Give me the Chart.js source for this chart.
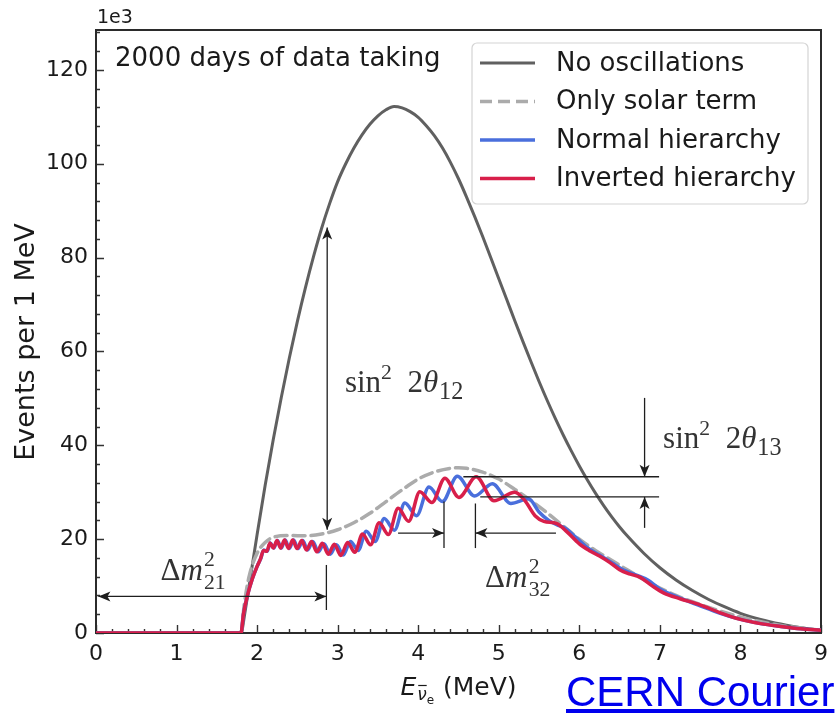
<!DOCTYPE html>
<html>
<head>
<meta charset="utf-8">
<script src="https://cdn.jsdelivr.net/npm/chart.js@4.4.1/dist/chart.umd.min.js"></script>
<style>
    html, body { margin: 0; padding: 0; background: #fff; }
    #wrap { position: relative; width: 840px; height: 716px; }
    #credit {
        position: absolute; left: 566px; top: 671px;
        font: 42px "Liberation Sans", Arial, sans-serif; line-height: 42px;
        color: #0000ee; text-decoration: underline;
    }
</style>
</head>
<body>
<div id="wrap">
    <canvas id="spectrum" width="840" height="716"></canvas>
    <a id="credit" href="#">CERN Courier</a>
</div>
<script>
"use strict";

// Reactor antineutrino spectrum, events per 1 MeV (x 1e3) vs energy (MeV)
var noOscE = [0, 1.8, 1.85, 1.9, 2.0, 2.1, 2.2, 2.3, 2.4, 2.5, 2.6, 2.7, 2.8, 2.9, 3.0, 3.1, 3.2, 3.3, 3.4, 3.5, 3.6, 3.7, 3.8, 3.9, 4.0, 4.1, 4.2, 4.3, 4.4, 4.5, 4.6, 4.7, 4.8, 4.9, 5.0, 5.1, 5.2, 5.3, 5.4, 5.5, 5.6, 5.7, 5.8, 5.9, 6.0, 6.1, 6.2, 6.3, 6.4, 6.5, 6.6, 6.8, 7.0, 7.2, 7.4, 7.6, 7.8, 8.0, 8.25, 8.5, 8.75, 9.0];
var noOscN = [0, 0, 4.5, 10, 21, 31.5, 41.2, 50.2, 58.6, 66.4, 73.6, 80.2, 86.2, 91.5, 96.2, 100.0, 103.3, 106.1, 108.4, 110.2, 111.5, 112.2, 111.9, 111.1, 109.9, 108.1, 106.0, 103.4, 100.3, 96.8, 92.9, 88.8, 84.5, 80.0, 75.5, 71.0, 66.5, 62.1, 57.8, 53.6, 49.6, 45.8, 42.2, 38.8, 35.6, 32.6, 29.8, 27.2, 24.8, 22.6, 20.6, 17.0, 13.9, 11.3, 9.1, 7.2, 5.6, 4.2, 2.9, 1.9, 1.1, 0.6];

var solarE = [0, 1.8, 1.84, 1.9, 2.0, 2.1, 2.2, 2.4, 2.6, 2.8, 3.0, 3.2, 3.4, 3.6, 3.8, 4.0, 4.2, 4.4, 4.5, 4.6, 4.8, 5.0, 5.2, 5.4, 5.6, 5.8, 6.0, 6.2, 6.4, 6.6, 6.8, 7.0, 7.2, 7.5, 8.0, 8.5, 9.0];
var solarN = [0, 0, 6, 12, 17, 19.3, 20.4, 20.8, 20.7, 21.1, 22, 23.5, 25.5, 28, 30.5, 32.8, 34.3, 35.1, 35.2, 35.1, 34.3, 32.8, 30.6, 28.2, 25.6, 22.8, 20.0, 17.6, 15.5, 13.4, 11.4, 9.6, 8.0, 6.1, 3.4, 1.6, 0.6];

var normalE = [0, 1.8, 1.83, 1.88, 1.94, 2.0, 2.046, 2.083, 2.124, 2.165, 2.208, 2.252, 2.3, 2.348, 2.4, 2.452, 2.509, 2.566, 2.628, 2.691, 2.76, 2.83, 2.907, 2.985, 3.07, 3.158, 3.255, 3.355, 3.465, 3.577, 3.705, 3.834, 3.98, 4.133, 4.3, 4.485, 4.7, 4.92, 5.15, 5.37, 5.5, 5.62, 5.73, 5.82, 5.95, 6.1, 6.25, 6.4, 6.55, 6.7, 6.85, 7.0, 7.2, 7.5, 7.75, 8.0, 8.25, 8.5, 8.75, 9.0];
var normalN = [0, 0, 4, 8, 11.5, 14.2, 15.9, 17.7, 17.4, 19.2, 18.1, 19.7, 18.1, 19.8, 18.0, 19.8, 18.0, 19.7, 17.7, 19.5, 17.3, 19.0, 16.8, 18.8, 16.6, 19.5, 17.6, 21.7, 19.5, 24.4, 21.9, 27.7, 25.0, 31.1, 28.0, 33.4, 29.2, 31.8, 27.6, 28.6, 25.8, 24.0, 23.0, 22.4, 20.5, 18.2, 16.6, 15.0, 13.4, 12.4, 11.3, 9.4, 7.8, 5.8, 4.2, 2.9, 2.0, 1.4, 0.9, 0.6];

var invertedE = [0, 1.8, 1.83, 1.88, 1.94, 2.0, 2.042, 2.079, 2.119, 2.16, 2.202, 2.246, 2.292, 2.34, 2.39, 2.442, 2.496, 2.554, 2.612, 2.676, 2.741, 2.81, 2.882, 2.958, 3.039, 3.123, 3.213, 3.308, 3.408, 3.515, 3.629, 3.751, 3.881, 4.02, 4.17, 4.331, 4.505, 4.72, 4.94, 5.2, 5.32, 5.45, 5.56, 5.72, 5.85, 6.0, 6.12, 6.25, 6.38, 6.5, 6.62, 6.75, 6.9, 7.05, 7.25, 7.5, 7.75, 8.0, 8.25, 8.5, 8.75, 9.0];
var invertedN = [0, 0, 4, 8, 11.5, 14.2, 15.8, 17.6, 17.4, 19.2, 18.1, 19.7, 18.1, 19.8, 18.0, 19.8, 18.0, 19.7, 17.7, 19.5, 17.3, 19.1, 16.8, 18.9, 16.5, 19.3, 17.2, 21.1, 18.8, 23.5, 21.0, 26.6, 23.8, 30.1, 27.8, 33.0, 28.9, 33.3, 28.2, 30.0, 28.3, 25.0, 23.8, 23.3, 21.5, 19.0, 17.6, 16.4, 15.0, 13.5, 12.6, 11.9, 10.1, 8.5, 7.3, 6.0, 4.3, 2.9, 2.0, 1.4, 0.9, 0.6];

var seriesLabels = ['No oscillations', 'Only solar term', 'Normal hierarchy', 'Inverted hierarchy'];
var xTicks = [0, 1, 2, 3, 4, 5, 6, 7, 8, 9];
var yTicks = [0, 20, 40, 60, 80, 100, 120];

// Arrows and bars of the annotations, in axis units
var marks = [
    { x1: 2.87, y1: 22.0, x2: 2.87, y2: 86.4, head1: true, head2: true },
    { x1: 0.03, y1: 7.8, x2: 2.86, y2: 7.8, head1: true, head2: true },
    { x1: 2.86, y1: 4.9, x2: 2.86, y2: 14.5 },
    { x1: 4.32, y1: 18.1, x2: 4.32, y2: 28.0 },
    { x1: 4.71, y1: 18.1, x2: 4.71, y2: 27.6 },
    { x1: 3.75, y1: 21.3, x2: 4.32, y2: 21.3, head2: true },
    { x1: 5.71, y1: 21.3, x2: 4.71, y2: 21.3, head2: true },
    { x1: 4.56, y1: 33.3, x2: 6.99, y2: 33.3 },
    { x1: 4.77, y1: 29.0, x2: 6.99, y2: 29.0 },
    { x1: 6.81, y1: 50.1, x2: 6.81, y2: 33.3, head2: true },
    { x1: 6.81, y1: 22.4, x2: 6.81, y2: 29.0, head2: true }
];

var mathLabels = [
    { x: 3.09, y: 51.4, runs: [{ t: 'sin' }, { t: '2', sc: 0.7, dy: -0.42, gap: 0.5 }, { t: '2' }, { t: 'θ', it: true, gap: 0.03 }, { t: '12', sc: 0.78, dy: 0.22 }] },
    { x: 7.04, y: 39.4, runs: [{ t: 'sin' }, { t: '2', sc: 0.7, dy: -0.42, gap: 0.5 }, { t: '2' }, { t: 'θ', it: true, gap: 0.03 }, { t: '13', sc: 0.78, dy: 0.22 }] },
    { x: 0.80, y: 11.3, runs: [{ t: 'Δ' }, { t: 'm', it: true, gap: 0.04 }, { sup: '2', sub: '21' }] },
    { x: 4.83, y: 9.8, runs: [{ t: 'Δ' }, { t: 'm', it: true, gap: 0.04 }, { sup: '2', sub: '32' }] }
];

var SANS = '"DejaVu Sans", sans-serif';
var SERIF = '"Liberation Serif", "DejaVu Serif", serif';

var toPoints = function (xs, ys) {
    return xs.map(function (x, i) {
        return { x: x, y: ys[i] };
    });
};

var drawArrowHead = function (ctx, x, y, angle) {
    var len = 12, half = 5;
    ctx.save();
    ctx.translate(x, y);
    ctx.rotate(angle);
    ctx.beginPath();
    ctx.moveTo(0, 0);
    ctx.lineTo(-len, -half);
    ctx.lineTo(-len * 0.75, 0);
    ctx.lineTo(-len, half);
    ctx.closePath();
    ctx.fill();
    ctx.restore();
};

var drawRuns = function (ctx, x, y, runs, size) {
    var cx = x;
    runs.forEach(function (r) {
        if (r.sup !== undefined) {
            ctx.font = (size * 0.7) + 'px ' + SERIF;
            ctx.fillText(r.sup, cx, y - size * 0.45);
            ctx.fillText(r.sub, cx, y + size * 0.28);
            cx += Math.max(ctx.measureText(r.sup).width, ctx.measureText(r.sub).width);
            return;
        }
        var s = size * (r.sc || 1);
        ctx.font = (r.it ? 'italic ' : '') + s + 'px ' + SERIF;
        ctx.fillText(r.t, cx, y + (r.dy || 0) * size);
        cx += ctx.measureText(r.t).width + (r.gap || 0) * size;
    });
};

// Frame and inward ticks go under the curves
var frame = {
    id: 'frame',
    beforeDatasetsDraw: function (chart) {
        var ctx = chart.ctx;
        var area = chart.chartArea;
        var xs = chart.scales.x, ys = chart.scales.y;
        var i, p;

        ctx.save();
        ctx.strokeStyle = '#333';
        ctx.lineWidth = 1.4;
        ctx.beginPath();
        for (i = 0; i <= 45; i++) {
            p = Math.round(xs.getPixelForValue(i * 0.2)) + 0.5;
            ctx.moveTo(p, area.bottom);
            ctx.lineTo(p, area.bottom - (i % 5 === 0 ? 8 : 4));
        }
        for (i = 0; i * 4 <= 128; i++) {
            p = Math.round(ys.getPixelForValue(i * 4)) + 0.5;
            ctx.moveTo(area.left, p);
            ctx.lineTo(area.left + (i % 5 === 0 ? 8 : 4), p);
        }
        ctx.stroke();

        ctx.lineWidth = 2;
        ctx.strokeStyle = '#2b2b2b';
        ctx.strokeRect(area.left, area.top, area.right - area.left, area.bottom - area.top);
        ctx.restore();
    }
};

// Annotations, text and the legend box on top
var decorations = {
    id: 'decorations',
    afterDraw: function (chart) {
        var ctx = chart.ctx;
        var area = chart.chartArea;
        var xs = chart.scales.x, ys = chart.scales.y;

        ctx.save();
        ctx.strokeStyle = '#1e1e1e';
        ctx.fillStyle = '#1e1e1e';
        ctx.lineWidth = 1.3;
        marks.forEach(function (m) {
            var x1 = xs.getPixelForValue(m.x1), y1 = ys.getPixelForValue(m.y1);
            var x2 = xs.getPixelForValue(m.x2), y2 = ys.getPixelForValue(m.y2);
            ctx.beginPath();
            ctx.moveTo(x1, y1);
            ctx.lineTo(x2, y2);
            ctx.stroke();
            var ang = Math.atan2(y2 - y1, x2 - x1);
            if (m.head2) drawArrowHead(ctx, x2, y2, ang);
            if (m.head1) drawArrowHead(ctx, x1, y1, ang + Math.PI);
        });

        ctx.fillStyle = '#333';
        ctx.textBaseline = 'alphabetic';
        ctx.textAlign = 'left';
        mathLabels.forEach(function (lb) {
            drawRuns(ctx, xs.getPixelForValue(lb.x), ys.getPixelForValue(lb.y), lb.runs, 31);
        });

        // corner texts
        ctx.fillStyle = '#1a1a1a';
        ctx.font = '26px ' + SANS;
        ctx.fillText('2000 days of data taking', area.left + 19, area.top + 36);
        ctx.font = '19px ' + SANS;
        ctx.fillText('1e3', area.left + 1, area.top - 7);

        // y axis title
        ctx.save();
        ctx.translate(27, 342);
        ctx.rotate(-Math.PI / 2);
        ctx.textAlign = 'center';
        ctx.textBaseline = 'middle';
        ctx.font = '27px ' + SANS;
        ctx.fillText('Events per 1 MeV', 0, 0);
        ctx.restore();

        // x axis title: E with a nu-bar_e subscript, then (MeV)
        var cx = (area.left + area.right) / 2;
        var base = 695;
        ctx.font = 'italic 25px ' + SANS;
        var wE = ctx.measureText('E').width;
        ctx.font = 'italic 17px ' + SANS;
        var wNu = ctx.measureText('ν').width;
        ctx.font = '12px ' + SANS;
        var wSubE = ctx.measureText('e').width;
        ctx.font = '25px ' + SANS;
        var wRest = ctx.measureText(' (MeV)').width;
        var x0 = cx - (wE + wNu + wSubE + wRest + 2) / 2;
        ctx.font = 'italic 25px ' + SANS;
        ctx.fillText('E', x0, base);
        ctx.font = 'italic 17px ' + SANS;
        ctx.fillText('ν', x0 + wE + 1, base + 5);
        ctx.lineWidth = 1.2;
        ctx.strokeStyle = '#1a1a1a';
        ctx.beginPath();
        ctx.moveTo(x0 + wE + 2, base - 9.5);
        ctx.lineTo(x0 + wE + wNu + 1, base - 9.5);
        ctx.stroke();
        ctx.font = '12px ' + SANS;
        ctx.fillText('e', x0 + wE + wNu + 1, base + 9);
        ctx.font = '25px ' + SANS;
        ctx.fillText(' (MeV)', x0 + wE + wNu + wSubE + 2, base);

        // legend box
        var lx = 472, ly = 43, lw = 336, lh = 161;
        ctx.beginPath();
        ctx.roundRect(lx, ly, lw, lh, 5);
        ctx.fillStyle = 'rgba(255,255,255,0.85)';
        ctx.fill();
        ctx.strokeStyle = '#d4d4d4';
        ctx.lineWidth = 1.2;
        ctx.stroke();
        ctx.textBaseline = 'middle';
        chart.data.datasets.forEach(function (ds, k) {
            var rowY = 63 + k * 38.5;
            ctx.strokeStyle = ds.borderColor;
            ctx.lineWidth = ds.borderWidth;
            ctx.setLineDash(ds.borderDash || []);
            ctx.beginPath();
            ctx.moveTo(480, rowY);
            ctx.lineTo(535, rowY);
            ctx.stroke();
            ctx.setLineDash([]);
            ctx.fillStyle = '#1a1a1a';
            ctx.font = '26px ' + SANS;
            ctx.fillText(ds.label, 556, rowY + 1);
        });
        ctx.restore();
    }
};

var ctxSpectrum = document.getElementById('spectrum').getContext('2d');

var spectrumChart = new Chart(ctxSpectrum, {
    type: 'line',
    data: {
        datasets: [{
            label: seriesLabels[0],
            data: toPoints(noOscE, noOscN),
            borderColor: '#606060',
            borderWidth: 3,
            order: 3
        }, {
            label: seriesLabels[1],
            data: toPoints(solarE, solarN),
            borderColor: '#ababab',
            borderWidth: 3.5,
            borderDash: [12, 6],
            order: 2
        }, {
            label: seriesLabels[2],
            data: toPoints(normalE, normalN),
            borderColor: '#4a6fdc',
            borderWidth: 3.5,
            order: 1
        }, {
            label: seriesLabels[3],
            data: toPoints(invertedE, invertedN),
            borderColor: '#d81f4a',
            borderWidth: 3.5,
            order: 0
        }]
    },
    options: {
        responsive: false,
        animation: false,
        devicePixelRatio: 1,
        layout: { padding: { left: 0, right: 19, top: 30, bottom: 0 } },
        elements: {
            point: { radius: 0 },
            line: { cubicInterpolationMode: 'monotone', borderJoinStyle: 'round', borderCapStyle: 'round', fill: false }
        },
        plugins: {
            legend: { display: false },
            tooltip: { enabled: false }
        },
        scales: {
            x: {
                type: 'linear',
                min: 0,
                max: 9,
                grid: { display: false, drawTicks: false },
                border: { display: false },
                afterBuildTicks: function (scale) {
                    scale.ticks = xTicks.map(function (v) { return { value: v }; });
                },
                ticks: { color: '#1a1a1a', padding: 8, font: { family: 'DejaVu Sans', size: 22 }, maxRotation: 0 },
                afterFit: function (scale) { scale.height = 83; }
            },
            y: {
                type: 'linear',
                min: 0,
                max: 128.5,
                grid: { display: false, drawTicks: false },
                border: { display: false },
                afterBuildTicks: function (scale) {
                    scale.ticks = yTicks.map(function (v) { return { value: v }; });
                },
                ticks: { color: '#1a1a1a', padding: 8, font: { family: 'DejaVu Sans', size: 22 } },
                afterFit: function (scale) { scale.width = 96; }
            }
        }
    },
    plugins: [frame, decorations]
});
</script>
</body>
</html>
